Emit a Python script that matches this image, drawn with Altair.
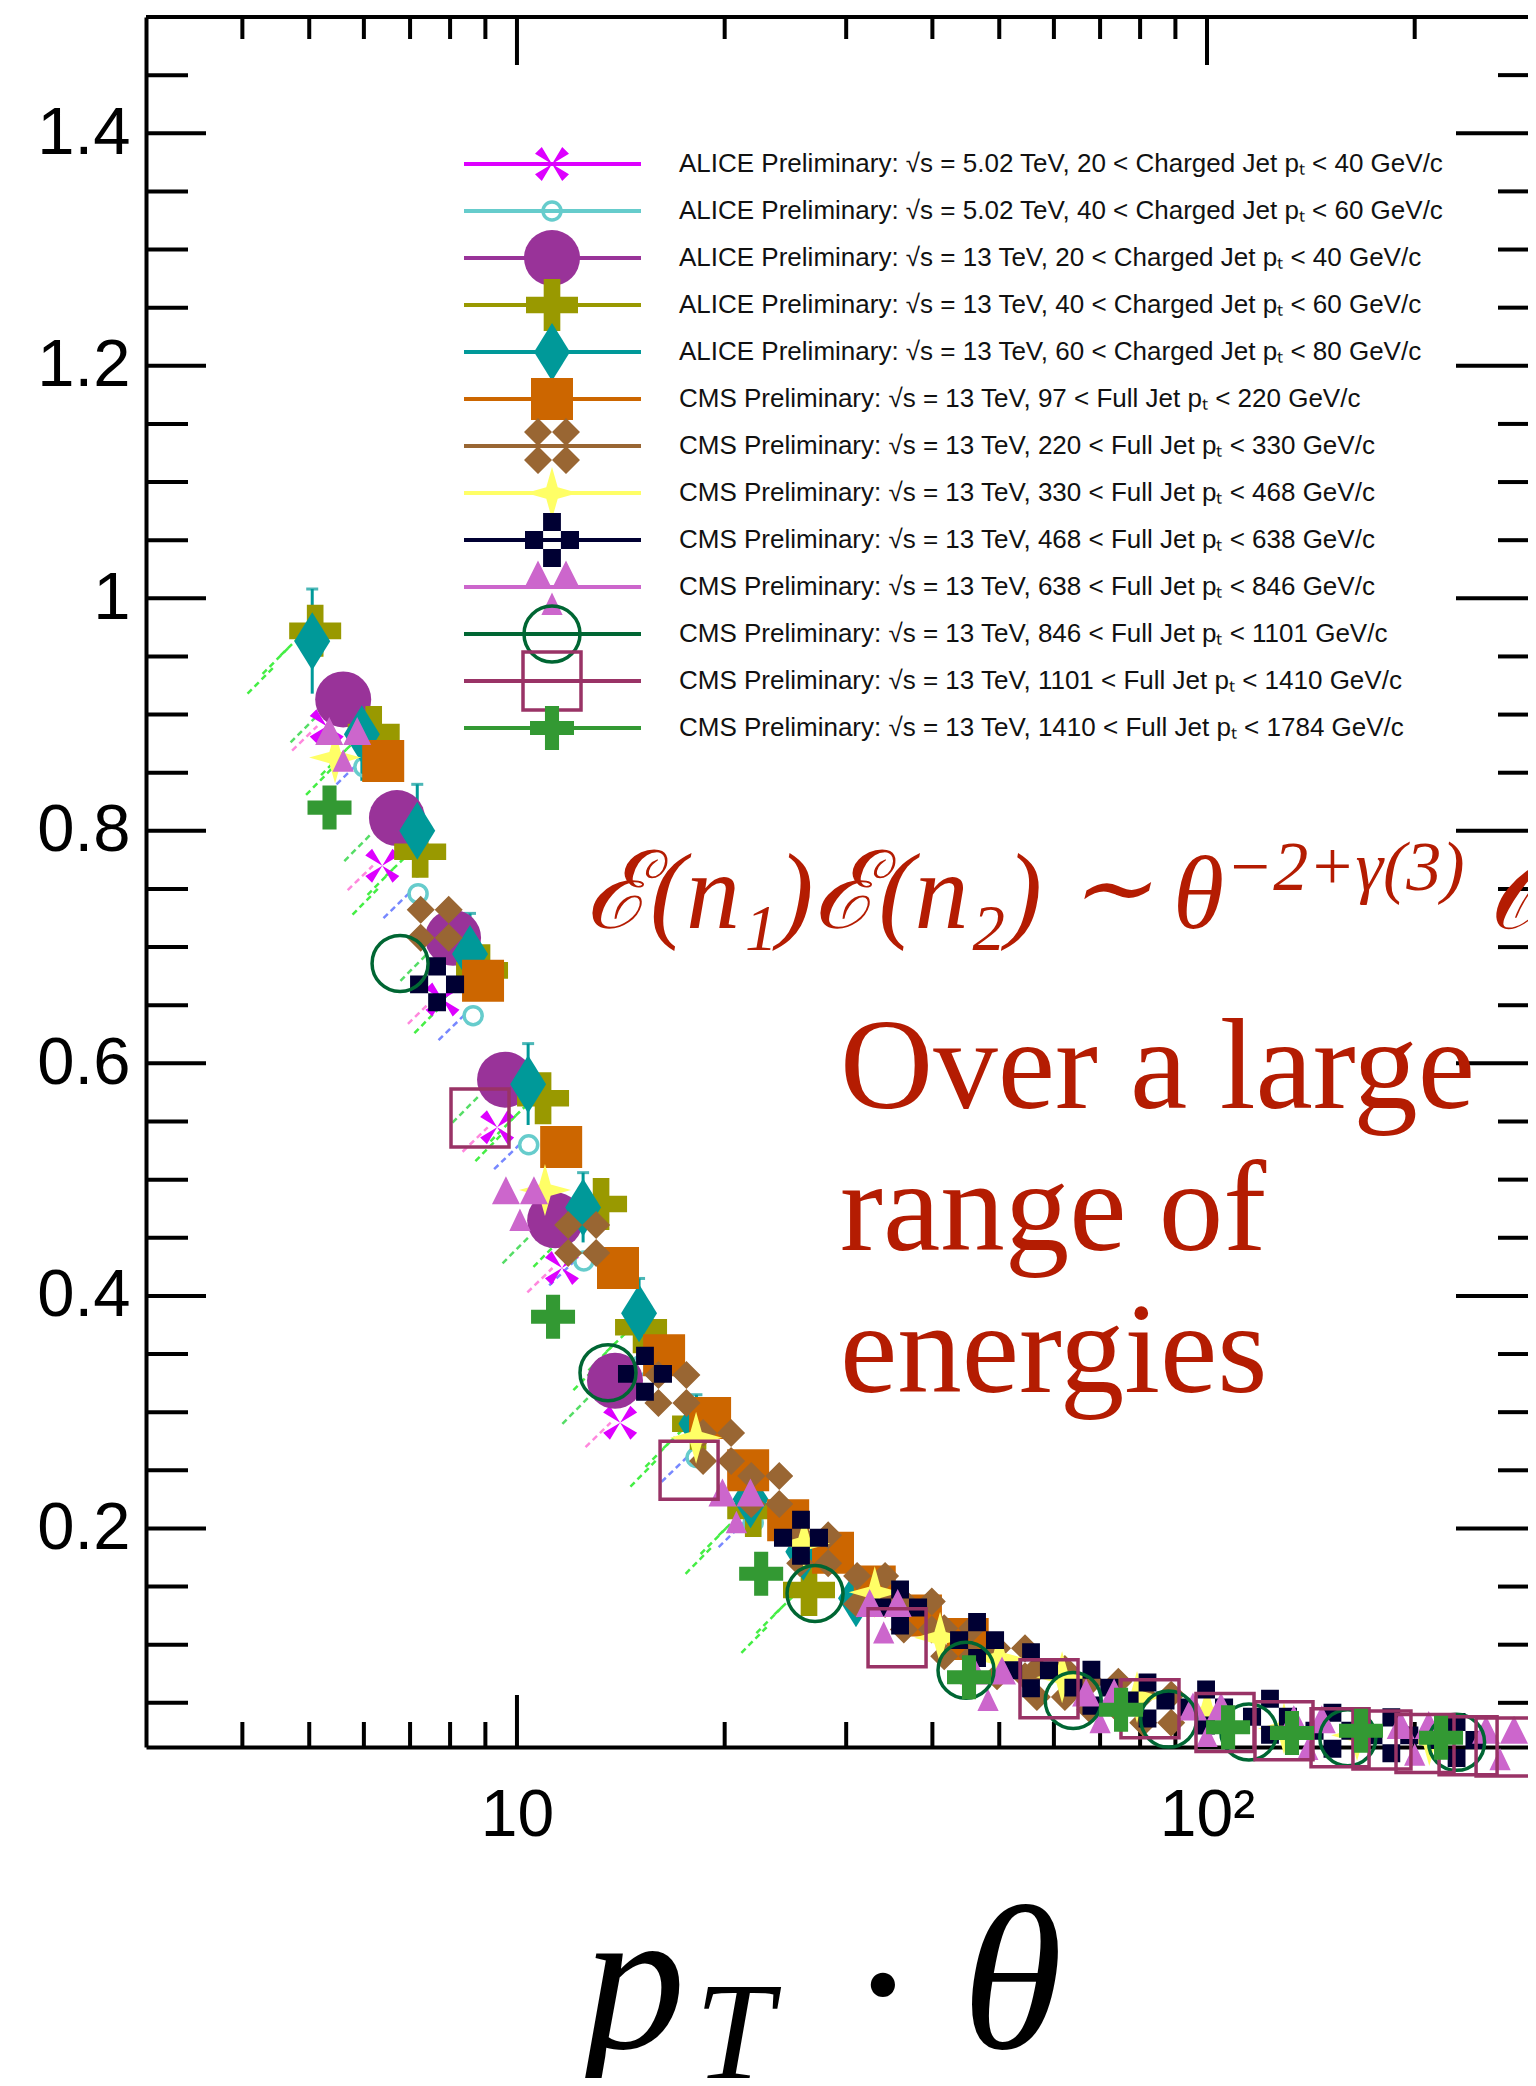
import altair as alt
import pandas as pd

# ---------------- data ----------------
labels = [
    "ALICE Preliminary: √s = 5.02 TeV, 20 < Charged Jet pₜ < 40 GeV/c",
    "ALICE Preliminary: √s = 5.02 TeV, 40 < Charged Jet pₜ < 60 GeV/c",
    "ALICE Preliminary: √s = 13 TeV, 20 < Charged Jet pₜ < 40 GeV/c",
    "ALICE Preliminary: √s = 13 TeV, 40 < Charged Jet pₜ < 60 GeV/c",
    "ALICE Preliminary: √s = 13 TeV, 60 < Charged Jet pₜ < 80 GeV/c",
    "CMS Preliminary: √s = 13 TeV, 97 < Full Jet pₜ < 220 GeV/c",
    "CMS Preliminary: √s = 13 TeV, 220 < Full Jet pₜ < 330 GeV/c",
    "CMS Preliminary: √s = 13 TeV, 330 < Full Jet pₜ < 468 GeV/c",
    "CMS Preliminary: √s = 13 TeV, 468 < Full Jet pₜ < 638 GeV/c",
    "CMS Preliminary: √s = 13 TeV, 638 < Full Jet pₜ < 846 GeV/c",
    "CMS Preliminary: √s = 13 TeV, 846 < Full Jet pₜ < 1101 GeV/c",
    "CMS Preliminary: √s = 13 TeV, 1101 < Full Jet pₜ < 1410 GeV/c",
    "CMS Preliminary: √s = 13 TeV, 1410 < Full Jet pₜ < 1784 GeV/c",
]

s1_x = [5.3, 6.38, 7.8, 9.36, 11.62, 14.11]
s1_y = [0.89, 0.77, 0.655, 0.545, 0.424, 0.291]
s2_x = [6.0, 7.19, 8.64, 10.4, 12.5, 15.1, 18.18, 22.0]
s2_y = [0.855, 0.746, 0.641, 0.53, 0.43, 0.34, 0.261, 0.205]
s3_x = [5.60, 6.70, 8.08, 9.61, 11.36, 13.87]
s3_y = [0.913, 0.811, 0.708, 0.586, 0.465, 0.327]
s4_x = [5.1, 6.2, 7.24, 8.9, 10.91, 13.24, 15.13, 18.3, 22.0, 26.5]
s4_y = [0.972, 0.885, 0.782, 0.68, 0.570, 0.479, 0.373, 0.29, 0.215, 0.147]
s5_x = [5.05, 5.96, 7.17, 8.55, 10.38, 12.47, 15.03, 18.2, 21.8, 26.0, 31.0]
s5_y = [0.963, 0.883, 0.800, 0.694, 0.582, 0.476, 0.385, 0.29, 0.225, 0.18, 0.14]
s6_x = [6.40, 8.93, 11.59, 14.01, 16.34, 19.05, 21.63, 24.72, 28.71, 33.0, 38.5, 45.0]
s6_y = [0.860, 0.671, 0.528, 0.424, 0.349, 0.295, 0.250, 0.207, 0.179, 0.150, 0.125, 0.105]
s7_x = [7.6, 12.43, 16.8, 19.5, 22.9, 26.96, 32.6, 38.1, 43.6, 52.0, 59.4, 71.0, 84.7]
s7_y = [0.72, 0.449, 0.32, 0.27, 0.233, 0.182, 0.147, 0.125, 0.102, 0.085, 0.067, 0.056, 0.045]
s8_x = [5.45, 10.98, 18.18, 26.07, 33.0, 41.04, 50.0, 61.66, 79.18, 100.0, 129.3, 165.0, 210.0]
s8_y = [0.863, 0.491, 0.278, 0.187, 0.145, 0.106, 0.088, 0.072, 0.055, 0.042, 0.028, 0.022, 0.018]
s9_x = [7.66, 15.33, 25.8, 35.91, 46.43, 55.59, 68.0, 82.0, 99.7, 123.4, 152.0, 185.0, 230.0]
s9_y = [0.668, 0.333, 0.192, 0.132, 0.104, 0.078, 0.063, 0.052, 0.046, 0.038, 0.026, 0.022, 0.018]
s10_x = [5.6, 10.1, 20.8, 34.0, 48.16, 70.0, 100.0, 140.0, 200.0, 265.9]
s10_y = [0.875, 0.48, 0.22, 0.125, 0.067, 0.048, 0.036, 0.025, 0.02, 0.016]
s11_x = [6.77, 13.55, 27.04, 44.75, 64.0, 88.0, 115.0, 160.0, 230.0]
s11_y = [0.686, 0.334, 0.144, 0.078, 0.052, 0.036, 0.025, 0.02, 0.016]
s12_x = [8.84, 17.76, 35.55, 59.03, 82.68, 106.2, 129.3, 155.9, 179.3, 207.0, 239.0, 270.4]
s12_y = [0.553, 0.250, 0.106, 0.062, 0.045, 0.033, 0.026, 0.020, 0.018, 0.015, 0.013, 0.012]
s13_x = [5.35, 11.28, 22.59, 45.2, 75.07, 107.3, 132.8, 167.2, 218.4]
s13_y = [0.820, 0.382, 0.161, 0.072, 0.044, 0.029, 0.024, 0.026, 0.020]

# statistical uncertainties of the ALICE 13 TeV 60-80 points (teal bars)
s5_err = [0.045, 0.04, 0.04, 0.035, 0.035, 0.03, 0.03, 0.025, 0.02, 0.02, 0.02]

series_x = [s1_x, s2_x, s3_x, s4_x, s5_x, s6_x, s7_x, s8_x, s9_x, s10_x, s11_x, s12_x, s13_x]
series_y = [s1_y, s2_y, s3_y, s4_y, s5_y, s6_y, s7_y, s8_y, s9_y, s10_y, s11_y, s12_y, s13_y]

x_major = [10, 100]
x_minor = [4, 5, 6, 7, 8, 9, 20, 30, 40, 50, 60, 70, 80, 90, 200]
y_major = [0.2, 0.4, 0.6, 0.8, 1.0, 1.2, 1.4]
y_minor = [0.05, 0.1, 0.15, 0.25, 0.3, 0.35, 0.45, 0.5, 0.55, 0.65, 0.7, 0.75,
           0.85, 0.9, 0.95, 1.05, 1.1, 1.15, 1.25, 1.3, 1.35, 1.45]

# ---------------- styles ----------------
colors = ["#dd00ff", "#66cccc", "#993399", "#999900", "#009999", "#cc6600", "#996633",
          "#ffff66", "#000033", "#cc66cc", "#006633", "#993366", "#339933"]
CROSS = ("M-0.32,-1L0.32,-1L0.32,-0.32L1,-0.32L1,0.32L0.32,0.32L0.32,1L-0.32,1"
         "L-0.32,0.32L-1,0.32L-1,-0.32L-0.32,-0.32Z")
XASTER = "M0,0L-1,-0.6L-0.6,-1Z M0,0L1,-0.6L0.6,-1Z M0,0L-1,0.6L-0.6,1Z M0,0L1,0.6L0.6,1Z"
DIAM = "M0,-1L0.62,0L0,1L-0.62,0Z"
FOURD = ("M-0.5,-1L0,-0.5L-0.5,0L-1,-0.5Z M0.5,-1L1,-0.5L0.5,0L0,-0.5Z "
         "M-0.5,0L0,0.5L-0.5,1L-1,0.5Z M0.5,0L1,0.5L0.5,1L0,0.5Z")
STAR4 = "M0,-1L0.22,-0.22L1,0L0.22,0.22L0,1L-0.22,0.22L-1,0L-0.22,-0.22Z"
CHECK = ("M-0.33,-1L0.33,-1L0.33,-0.33L-0.33,-0.33Z M-1,-0.33L-0.33,-0.33L-0.33,0.33L-1,0.33Z "
         "M0.33,-0.33L1,-0.33L1,0.33L0.33,0.33Z M-0.33,0.33L0.33,0.33L0.33,1L-0.33,1Z")
TRI3 = "M-1,0.05L-0.5,-0.95L0,0.05Z M0,0.05L0.5,-0.95L1,0.05Z M-0.38,1L0,0.2L0.38,1Z"
shapes = [XASTER, "circle", "circle", CROSS, DIAM, "square", FOURD, STAR4, CHECK, TRI3,
          "circle", "square", CROSS]
diam = [34, 18, 56, 52, 58, 42, 56, 52, 54, 56, 56, 58, 44]
filled = [True, False, True, True, True, True, True, True, True, True, False, False, True]

W, H = 1382, 1730
xs = alt.Scale(type="log", domain=[2.9, 291.9], nice=False)
ys = alt.Scale(domain=[0.012, 1.5], nice=False, zero=False)
RED = "#b41c02"

AX = alt.Axis(values=x_major, labelExpr="datum.value == 10 ? '10' : '10²'", ticks=False,
              tickSize=0, grid=False, domainColor="black", domainWidth=4,
              labelFont="Liberation Sans", labelFontSize=66, labelColor="black",
              labelPadding=36, title=None)
AY = alt.Axis(values=y_major, labelExpr="datum.value == 1 ? '1' : format(datum.value, '.1f')",
              ticks=False, tickSize=0, grid=False, domainColor="black", domainWidth=4,
              labelFont="Liberation Sans", labelFontSize=67, labelColor="black",
              labelPadding=16, title=None)


def X(f):
    return alt.X(f, scale=xs, axis=AX)


def Y(f):
    return alt.Y(f, scale=ys, axis=AY)


layers = []

# axes carrier (labels + left/bottom frame)
layers.append(alt.Chart(pd.DataFrame({"x": [10.0], "y": [0.5]})).mark_point(opacity=0).encode(
    x=X("x:Q"), y=Y("y:Q")))


# ticks (inward)
def xticks(vals, y0, y1):
    return alt.Chart(pd.DataFrame({"v": vals})).mark_rule(color="black", strokeWidth=4).encode(
        x=X("v:Q"), y=alt.value(y0), y2=alt.value(y1))


def yticks(vals, x0, x1):
    return alt.Chart(pd.DataFrame({"v": vals})).mark_rule(color="black", strokeWidth=4).encode(
        y=Y("v:Q"), x=alt.value(x0), x2=alt.value(x1))


layers += [
    xticks(x_minor, H, H - 25), xticks(x_major, H, H - 52),
    xticks(x_minor, 0, 22), xticks(x_major, 0, 48),
    yticks(y_minor, 0, 42), yticks(y_major, 0, 60),
    yticks(y_minor, W, W - 30), yticks(y_major, W, W - 72),
]
# top frame line
layers.append(alt.Chart(pd.DataFrame({"a": [0]})).mark_rule(color="black", strokeWidth=4).encode(
    x=alt.value(0), x2=alt.value(W), y=alt.value(0)))

# hatched systematic bands: short 45-degree dashed strokes just below-left of the points
SEG_A = (0.891, 0.969, -0.021, 0.000)
SEG_B = (0.839, 0.913, -0.037, -0.015)
SEG_C = (0.798, 0.868, -0.054, -0.032)
hatch_sets = [(3, "#44ee44", [SEG_A, SEG_B, SEG_C]),
              (2, "#55dd66", [SEG_B]),
              (0, "#ff88dd", [SEG_A]),
              (1, "#7788ff", [SEG_A])]
for si, hc, offs in hatch_sets:
    hx, hx2, hy, hy2 = [], [], [], []
    for xv, yv in zip(series_x[si], series_y[si]):
        for f1, f2, d1, d2 in offs:
            hx.append(xv * f1)
            hx2.append(xv * f2)
            hy.append(yv + d1)
            hy2.append(yv + d2)
    hdf = pd.DataFrame({"x": hx, "x2": hx2, "y": hy, "y2": hy2})
    layers.append(alt.Chart(hdf).mark_rule(color=hc, strokeWidth=2.5, strokeDash=[6, 4]).encode(
        x=X("x:Q"), x2="x2:Q", y=Y("y:Q"), y2="y2:Q"))

# teal statistical error bars
edf = pd.DataFrame({"x": s5_x, "lo": [a - b for a, b in zip(s5_y, s5_err)],
                    "hi": [a + b for a, b in zip(s5_y, s5_err)]})
layers.append(alt.Chart(edf).mark_rule(color="#009999", strokeWidth=3).encode(
    x=X("x:Q"), y=Y("lo:Q"), y2="hi:Q"))
layers.append(alt.Chart(edf).mark_tick(color="#009999", thickness=3, size=12, orient="horizontal").encode(
    x=X("x:Q"), y=Y("hi:Q")))

# data series
for i in range(13):
    df = pd.DataFrame({"x": series_x[i], "y": series_y[i]})
    mk = dict(shape=shapes[i], size=diam[i] ** 2, opacity=1)
    if filled[i]:
        mk.update(filled=True, fill=colors[i], strokeWidth=0)
    else:
        mk.update(filled=False, stroke=colors[i], strokeWidth=3.5)
    layers.append(alt.Chart(df).mark_point(**mk).encode(x=X("x:Q"), y=Y("y:Q")))

# legend
for i in range(13):
    yp = 147 + 47 * i
    one = pd.DataFrame({"label": [labels[i]]})
    layers.append(alt.Chart(one).mark_rule(color=colors[i], strokeWidth=4).encode(
        x=alt.value(318), x2=alt.value(495), y=alt.value(yp)))
    mk = dict(shape=shapes[i], size=diam[i] ** 2, opacity=1)
    if filled[i]:
        mk.update(filled=True, fill=colors[i], strokeWidth=0)
    else:
        mk.update(filled=False, stroke=colors[i], strokeWidth=3.5)
    layers.append(alt.Chart(one).mark_point(**mk).encode(x=alt.value(406), y=alt.value(yp)))
    layers.append(alt.Chart(one).mark_text(
        align="left", baseline="middle", font="Liberation Sans", fontSize=26,
        color="#111111").encode(x=alt.value(533), y=alt.value(yp), text="label:N"))


# annotations
def txt(t, x, y, size, color, style="normal", font="Liberation Serif", align="left"):
    return alt.Chart(pd.DataFrame({"t": [t]})).mark_text(
        align=align, baseline="alphabetic", font=font, fontSize=size, fontStyle=style,
        color=color).encode(x=alt.value(x), y=alt.value(y), text="t:N")


layers += [
    txt("ℰ(n₁)ℰ(n₂)", 439, 911, 108, RED, "italic"),
    txt("∼", 922, 905, 100, RED, "italic"),
    txt("θ", 1027, 911, 104, RED, "italic"),
    txt("−2+γ(3)", 1080, 873, 70, RED, "italic"),
    txt("𝒪", 1341, 911, 104, RED, "italic"),
    txt("Over a large", 694, 1091, 129, RED),
    txt("range of", 694, 1233, 129, RED),
    txt("energies", 694, 1375, 129, RED),
    txt("p", 437, 2031, 205, "black", "italic"),
    txt("T", 549, 2062, 140, "black", "italic"),
    txt("·", 737, 2036, 205, "black", "normal", align="center"),
    txt("θ", 816, 2031, 205, "black", "italic"),
]

chart = alt.layer(*layers).properties(
    width=W, height=H,
    padding={"left": 138, "top": 9, "right": 0, "bottom": 331},
    autosize=alt.AutoSizeParams(type="none"),
).configure_view(stroke=None)

chart.save("out.html", embed_options={"renderer": "svg", "actions": False})
